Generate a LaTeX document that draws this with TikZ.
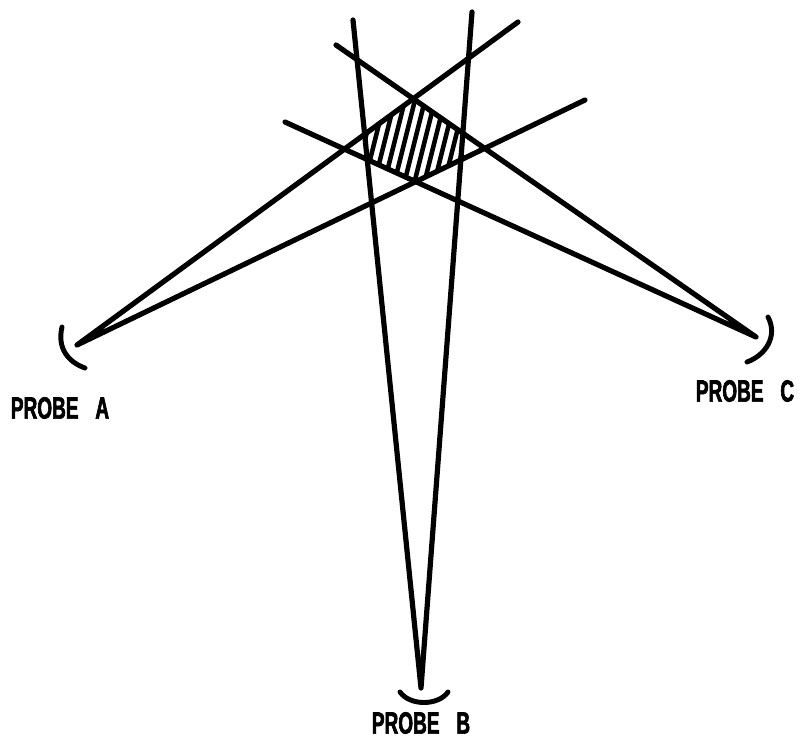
\documentclass[tikz,border=0pt]{standalone}
\usepackage{fontspec}
\newfontfamily\probefont[FakeStretch=0.62,BoldFeatures={FakeBold=2}]{Liberation Sans}
\begin{document}
\begin{tikzpicture}[x=0.75pt,y=-0.75pt,
  beam/.style={line width=3.9pt,line cap=round,line join=round},
  probearc/.style={line width=3.7pt,line cap=round},
  hatchline/.style={line width=3.4pt},
  probelabel/.style={font=\probefont\bfseries\fontsize{23pt}{23pt}\selectfont,inner sep=0pt}]
\useasboundingbox (0,0) rectangle (803,740);
% probe apexes and beam ends
\coordinate (A) at (77,345);
\coordinate (A1) at (518,22);
\coordinate (A2) at (585,100);
\coordinate (B) at (421,688);
\coordinate (B1) at (353,20);
\coordinate (B2) at (472,12);
\coordinate (C) at (756,337);
\coordinate (C1) at (336,45);
\coordinate (C2) at (285,122);
% hatched overlap region
\begin{scope}
  \clip (A) -- (A1) -- (A2) -- cycle;
  \clip (B) -- (B1) -- (B2) -- cycle;
  \clip (C) -- (C1) -- (C2) -- cycle;
  \foreach \i in {320,330,...,500} {
    \draw[hatchline] (\i,200) -- (\i+30,80);
  }
\end{scope}
% beams
\draw[beam] (A1) -- (A) -- (A2);
\draw[beam] (B1) -- (B) -- (B2);
\draw[beam] (C1) -- (C) -- (C2);
% probe arcs
\draw[probearc] (62,327) .. controls (57,348) and (68,362) .. (85,368);
\draw[probearc] (768,317) .. controls (778,336) and (766,355) .. (747,362);
\draw[probearc] (400,692) .. controls (410,706) and (438,706) .. (448,692);
% labels
\node[probelabel] (la) at (60,408) {PROBE\hspace{0.55em}A};
\node[probelabel] (lc) at (745,391) {PROBE\hspace{0.55em}C};
\node[probelabel] (lb) at (421,723) {PROBE\hspace{0.55em}B};
\end{tikzpicture}
\end{document}
